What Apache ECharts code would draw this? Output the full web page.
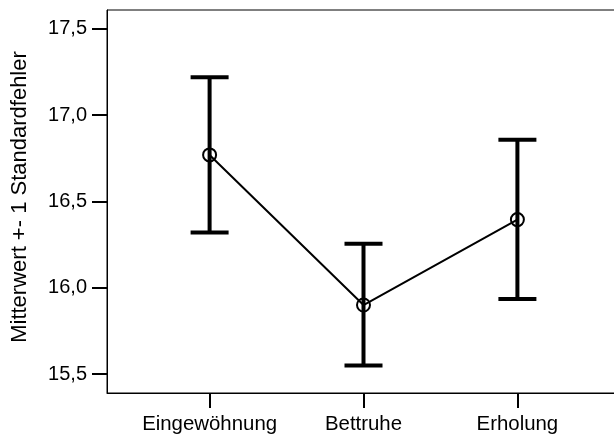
<!DOCTYPE html>
<html>
<head>
<meta charset="utf-8">
<script src="https://cdn.jsdelivr.net/npm/echarts@6/dist/echarts.min.js"></script>
<style>
html,body{margin:0;padding:0;background:#fff;}
#chart{width:614px;height:438px;}
</style>
</head>
<body>
<div id="chart"></div>
<script>
const categories = ['Eingewöhnung', 'Bettruhe', 'Erholung'];
const means = [16.77, 15.90, 16.395];
const upper = [17.22, 16.255, 16.858];
const lower = [16.32, 15.55, 15.935];
const yTicks = [15.5, 16.0, 16.5, 17.0, 17.5];
const yTitle = 'Mitterwert +- 1 Standardfehler';

const xPos = categories.map((c, i) => i + 1);
const lineData = means.map((m, i) => [xPos[i], m]);
const barData = means.map((m, i) => [xPos[i], lower[i], upper[i]]);

const chart = echarts.init(document.getElementById('chart'), null, {renderer: 'canvas'});
const FONT = 'Liberation Sans, Arial, sans-serif';

chart.setOption({
  animation: false,
  backgroundColor: '#fff',
  grid: {
    left: 107, top: 10, width: 513, height: 383,
    containLabel: false,
    outerBoundsMode: 'none',
    show: true, borderColor: '#000', borderWidth: 1, backgroundColor: 'transparent'
  },
  xAxis: {
    type: 'value',
    min: 1/3, max: 11/3,
    axisLine: {show: true, lineStyle: {color: '#000', width: 1}},
    splitLine: {show: false},
    axisTick: {show: true, customValues: xPos, length: 15, lineStyle: {color: '#000', width: 2}},
    axisLabel: {
      customValues: xPos, margin: 21,
      color: '#000', fontFamily: FONT, fontSize: 20.4,
      formatter: v => categories[Math.round(v) - 1] || ''
    }
  },
  yAxis: {
    type: 'value',
    min: 15.39, max: 17.61,
    name: yTitle,
    nameLocation: 'middle',
    nameGap: 76,
    nameRotate: 90,
    nameTextStyle: {color: '#000', fontFamily: FONT, fontSize: 22, padding: [0, 0, 0, 9]},
    axisLine: {show: true, lineStyle: {color: '#000', width: 1}},
    splitLine: {show: false},
    axisTick: {show: true, customValues: yTicks, length: 15, lineStyle: {color: '#000', width: 2}},
    axisLabel: {
      customValues: yTicks, margin: 20,
      color: '#000', fontFamily: FONT, fontSize: 20,
      formatter: v => v.toFixed(1).replace('.', ',')
    }
  },
  series: [
    {
      type: 'custom',
      data: barData,
      z: 2,
      renderItem: function (params, api) {
        const x = api.value(0);
        const lo = api.coord([x, api.value(1)]);
        const hi = api.coord([x, api.value(2)]);
        const half = 19;
        return {
          type: 'group',
          children: [
            {type: 'line', shape: {x1: lo[0], y1: lo[1], x2: hi[0], y2: hi[1]}, style: {stroke: '#000', lineWidth: 4}},
            {type: 'line', shape: {x1: hi[0] - half, y1: hi[1], x2: hi[0] + half, y2: hi[1]}, style: {stroke: '#000', lineWidth: 4}},
            {type: 'line', shape: {x1: lo[0] - half, y1: lo[1], x2: lo[0] + half, y2: lo[1]}, style: {stroke: '#000', lineWidth: 4}}
          ]
        };
      }
    },
    {
      type: 'line',
      data: lineData,
      z: 3,
      symbol: 'circle',
      symbolSize: 13,
      lineStyle: {color: '#000', width: 2},
      itemStyle: {color: 'none', borderColor: '#000', borderWidth: 2}
    }
  ]
});
</script>
</body>
</html>
